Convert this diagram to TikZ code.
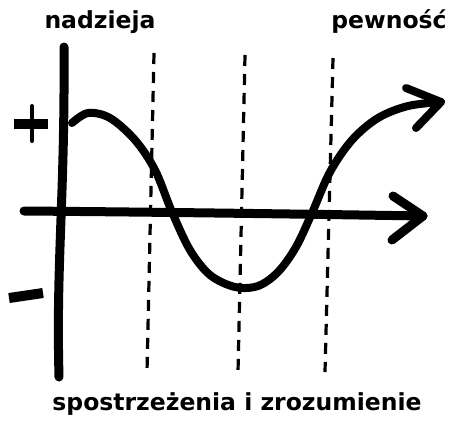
\documentclass[tikz,border=0pt]{standalone}
\usepackage{fontspec}
\setmainfont{DejaVu Sans}
\begin{document}
\begin{tikzpicture}[x=1pt,y=-1pt,
  axis/.style={line width=9pt,line cap=round,line join=round},
  curveline/.style={line width=8pt,line cap=round,line join=round},
  guide/.style={line width=3.2pt,dash pattern=on 11pt off 8pt},
  lbl/.style={font=\fontsize{23.5}{26}\selectfont\bfseries,inner sep=0pt,text=black}]
\useasboundingbox (0,0) rectangle (453,424);
% labels
\node[lbl] (hope) at (100,22) {nadzieja};
\node[lbl] (cert) at (389,22) {pewność};
\node[lbl] (insight) at (237,404) {spostrzeżenia i zrozumienie};
% dashed guides
\coordinate (g1t) at (154,53); \coordinate (g1b) at (147,372);
\coordinate (g2t) at (245,55); \coordinate (g2b) at (238,372);
\coordinate (g3t) at (333,58); \coordinate (g3b) at (325,372);
\draw[guide] (g1t) -- (g1b);
\draw[guide] (g2t) -- (g2b);
\draw[guide] (g3t) -- (g3b);
% vertical axis
\coordinate (vt) at (64,47); \coordinate (vb) at (59,377);
\draw[axis] (vt) .. controls (65,200) and (56,260) .. (vb);
% horizontal axis
\coordinate (hl) at (24,211); \coordinate (hr) at (423,216);
\draw[axis] (hl) .. controls (150,212) and (300,214) .. (hr);
\draw[axis] (393,196) -- (hr) -- (392,240);
% plus and minus
\draw[line width=10pt] (14,124) -- (48,124);
\draw[line width=4pt,line cap=round] (32,106) -- (32,141);
\draw[line width=10pt] (9,298) -- (43,293);
% curve
\coordinate (cs) at (72,123); \coordinate (ce) at (441,102);
\draw[curveline] plot[smooth,tension=0.55] coordinates {(cs) (88,113) (110,118) (135,140) (155,170) (172,212) (190,250) (210,275) (235,287) (258,286) (278,272) (296,247) (312,213) (330,172) (352,140) (378,118) (408,106) (ce)};
\draw[curveline] (406,88) -- (ce) -- (416,128);
\end{tikzpicture}
\end{document}
